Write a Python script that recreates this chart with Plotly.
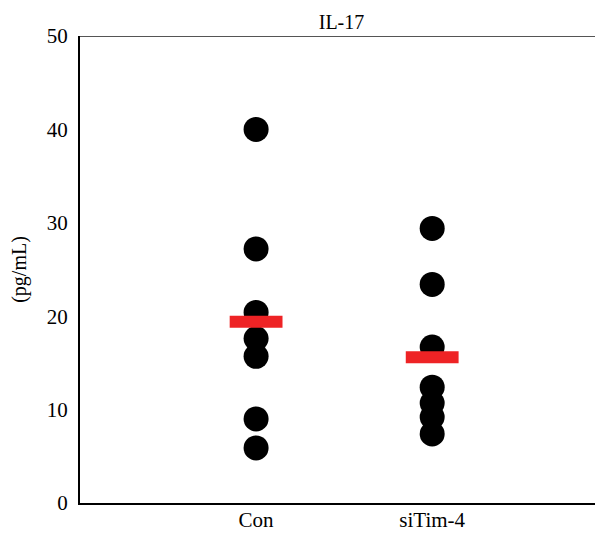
import plotly.graph_objects as go

categories = ["Con", "siTim-4"]
con_values = [40.0, 27.2, 20.4, 17.6, 15.7, 9.0, 5.9]
sitim_values = [29.4, 23.4, 16.7, 12.4, 10.7, 9.2, 7.4]
means = [19.4, 15.6]
y_ticks = [0, 10, 20, 30, 40, 50]

FONT = "Liberation Serif"
groups = [con_values, sitim_values]

fig = go.Figure()
for i, vals in enumerate(groups):
    fig.add_trace(go.Scatter(
        x=[i + 1] * len(vals), y=vals, mode="markers",
        marker=dict(size=25, color="black", line=dict(width=0)),
        showlegend=False, hoverinfo="y"))
for i, m in enumerate(means):
    fig.add_trace(go.Scatter(
        x=[i + 1 - 0.15, i + 1 + 0.15], y=[m, m], mode="lines",
        line=dict(color="#ee2325", width=12),
        showlegend=False, hoverinfo="y"))

fig.add_shape(type="line", xref="paper", yref="y", x0=0, x1=1, y0=50, y1=50,
              line=dict(color="#555555", width=2))

fig.update_layout(
    width=595, height=525,
    margin=dict(l=72, r=0, t=28, b=30),
    paper_bgcolor="white", plot_bgcolor="white",
    font=dict(family=FONT, color="black", size=21),
    title=dict(text="IL-17", xref="paper", x=0.5, xanchor="center",
               y=0.974, yanchor="middle",
               font=dict(family=FONT, size=20, color="black")),
    xaxis=dict(range=[0, 2.97], tickvals=[1, 2], ticktext=categories,
               showgrid=False, zeroline=False, showline=True, linecolor="black",
               linewidth=2, ticks="", ticklabelstandoff=-3, automargin=False,
               tickfont=dict(family=FONT, size=21)),
    yaxis=dict(range=[0, 50], tickvals=y_ticks, showgrid=False, zeroline=False,
               showline=True, linecolor="black", linewidth=2, ticks="",
               ticklabelstandoff=6, automargin=False,
               tickfont=dict(family=FONT, size=21),
               title=dict(text="(pg/mL)", standoff=23,
                          font=dict(family=FONT, size=20))),
)

fig.write_html("out.html")
